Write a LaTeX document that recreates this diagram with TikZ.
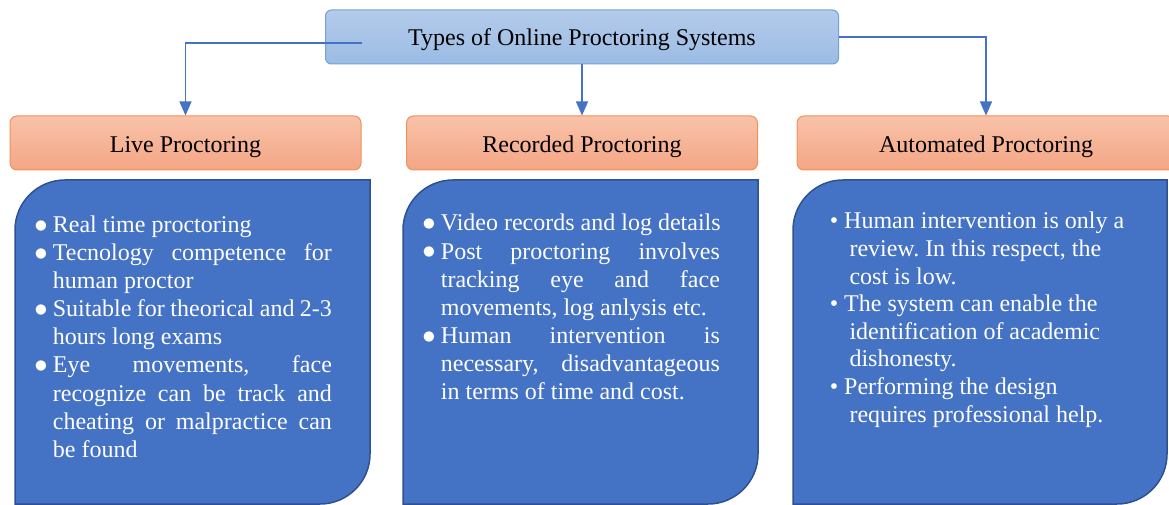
\documentclass[tikz,border=0pt]{standalone}
\usepackage{fontspec}
\setmainfont{Liberation Serif}
\newfontfamily\dejavu{DejaVu Sans}
\usetikzlibrary{arrows.meta}
\frenchspacing
\definecolor{titletop}{RGB}{180,203,235}
\definecolor{titlebot}{RGB}{155,188,228}
\definecolor{titleline}{RGB}{118,160,218}
\definecolor{headtop}{RGB}{248,194,170}
\definecolor{headbot}{RGB}{244,166,132}
\definecolor{headline}{RGB}{240,146,92}
\definecolor{panelfill}{RGB}{68,114,196}
\definecolor{panelline}{RGB}{47,82,143}
\definecolor{connblue}{RGB}{68,114,196}
\newcommand\mystrut{\vrule width 0pt height 19.7pt depth 8.45pt\relax}
\newcommand\bulbox{\hbox to 18.7pt{\mystrut\hskip1pt\raisebox{3.2pt}{\dejavu\fontsize{13.5}{13.5}\selectfont ●}\hss}}
\newcommand\indbox{\hbox to 18.7pt{\mystrut\hss}}
\newcommand\jline[1]{\hbox to 279pt{#1}}
\newcommand\rind{\hbox to 19.7pt{\mystrut\hss}}
\newcommand\bluepanel[2]{%
  \path[panel] (#1,504) -- (#1,230) .. controls (#1,202.4) and ({#1+22.4},180) .. ({#1+50},180)
    -- (#2,180) -- (#2,454) .. controls (#2,481.6) and ({#2-22.4},504) .. ({#2-50},504) -- cycle;}
\begin{document}
\begin{tikzpicture}[x=1pt,y=-1pt,
  titlebox/.style={rounded corners=6pt, minimum width=513pt, minimum height=54pt,
    top color=titletop, bottom color=titlebot, draw=titleline, line width=1pt,
    font=\fontsize{24}{28}\selectfont, text height=18pt, text depth=0pt, inner sep=0pt},
  headbox/.style={rounded corners=7pt, minimum height=54pt,
    top color=headtop, bottom color=headbot, draw=headline, line width=1pt,
    font=\fontsize{24}{28}\selectfont, text height=19pt, text depth=0pt, inner sep=0pt},
  panel/.style={fill=panelfill, draw=panelline, line width=1.5pt},
  coltext/.style={anchor=north west, inner sep=0pt, text=white, font=\fontsize{24}{28.15}\selectfont},
  conn/.style={draw=connblue, line width=1.1pt, -{Triangle[width=12pt,length=14pt]}}
]
\useasboundingbox (0,0) rectangle (1169,505);
\fill[white] (0,0) rectangle (1169,505);

\node[titlebox] (title) at (582,37) {Types of Online Proctoring Systems};

\node[headbox, minimum width=351pt] (live) at (185.5,143) {Live Proctoring};
\node[headbox, minimum width=351pt] (rec) at (582,143) {Recorded Proctoring};
\node[headbox, minimum width=378pt] (auto) at (986,143) {Automated Proctoring};

\coordinate (lstart) at (362,43);
\draw[conn] (lstart) -| (live.north);
\draw[conn] (title.south) -- (rec.north);
\draw[conn] (title.east) -| (auto.north);

\bluepanel{15}{370}
\bluepanel{403}{758}
\bluepanel{793}{1167}

\node[coltext] (livetext) at (34,212.3) {\vbox{\baselineskip=28.15pt\lineskiplimit=-\maxdimen
  \hbox{\bulbox Real time proctoring}
  \hbox{\bulbox\jline{Tecnology competence for}}
  \hbox{\indbox human proctor}
  \hbox{\bulbox\jline{Suitable for theorical and 2-3}}
  \hbox{\indbox hours long exams}
  \hbox{\bulbox\jline{Eye movements, face}}
  \hbox{\indbox\jline{recognize can be track and}}
  \hbox{\indbox\jline{cheating or malpractice can}}
  \hbox{\indbox be found}}};

\node[coltext] (rectext) at (422,211) {\vbox{\baselineskip=28.15pt\lineskiplimit=-\maxdimen
  \hbox{\bulbox Video records and log details}
  \hbox{\bulbox\jline{Post proctoring involves}}
  \hbox{\indbox\jline{tracking eye and face}}
  \hbox{\indbox movements, log anlysis etc.}
  \hbox{\bulbox\jline{Human intervention is}}
  \hbox{\indbox\jline{necessary, disadvantageous}}
  \hbox{\indbox in terms of time and cost.}}};

\node[coltext] (autotext) at (829.6,209) {\vbox{\baselineskip=27.6pt\lineskiplimit=-\maxdimen
  \hbox{\mystrut • Human intervention is only a}
  \hbox{\rind review. In this respect, the}
  \hbox{\rind cost is low.}
  \hbox{\mystrut • The system can enable the}
  \hbox{\rind identification of academic}
  \hbox{\rind dishonesty.}
  \hbox{\mystrut • Performing the design}
  \hbox{\rind requires professional help.}}};
\end{tikzpicture}
\end{document}
